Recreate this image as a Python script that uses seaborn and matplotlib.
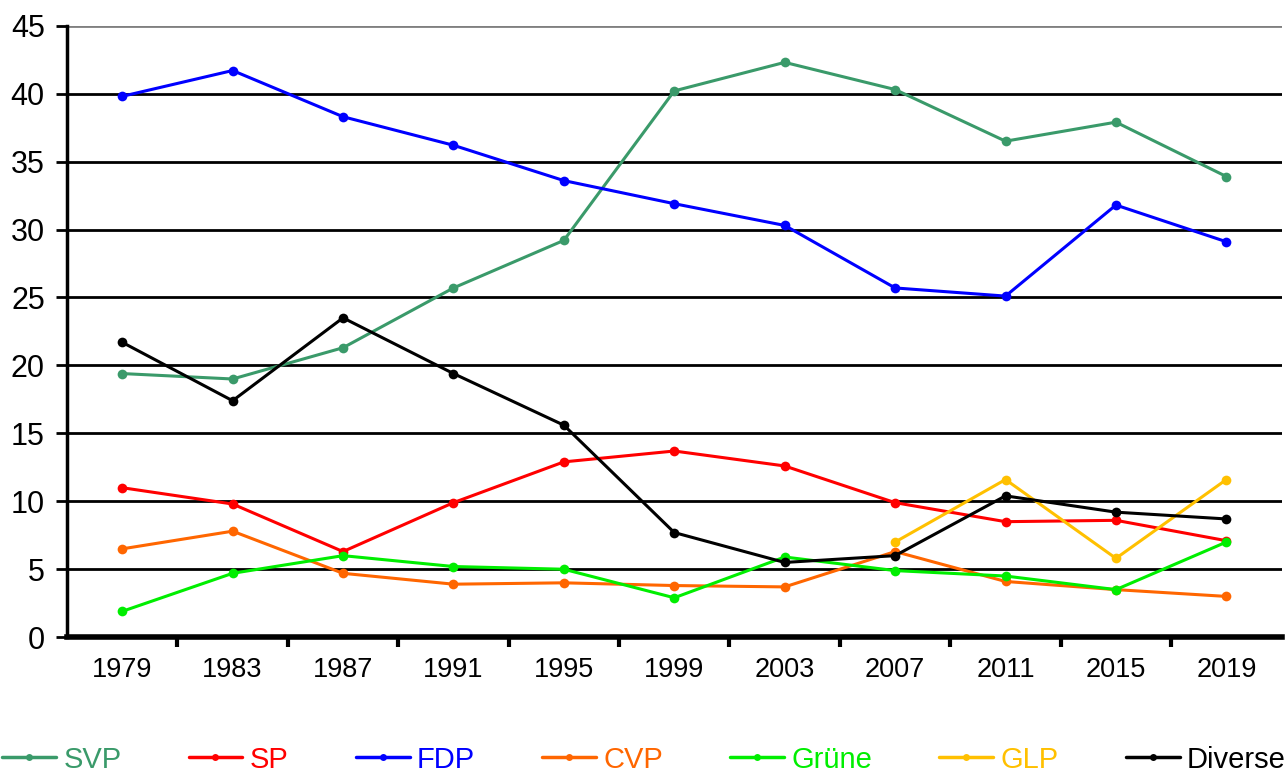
import numpy as np
import pandas as pd
import matplotlib
matplotlib.use("Agg")
import matplotlib.pyplot as plt
import seaborn as sns

years = ["1979", "1983", "1987", "1991", "1995", "1999", "2003", "2007", "2011", "2015", "2019"]

svp = [19.4, 19.0, 21.3, 25.7, 29.2, 40.2, 42.3, 40.3, 36.5, 37.9, 33.9]
sp = [11.0, 9.8, 6.3, 9.9, 12.9, 13.7, 12.6, 9.9, 8.5, 8.6, 7.1]
fdp = [39.8, 41.7, 38.3, 36.2, 33.6, 31.9, 30.3, 25.7, 25.1, 31.8, 29.1]
cvp = [6.5, 7.8, 4.7, 3.9, 4.0, 3.8, 3.7, 6.3, 4.1, 3.5, 3.0]
gruene = [1.9, 4.7, 6.0, 5.2, 5.0, 2.9, 5.9, 4.9, 4.5, 3.5, 7.0]
glp = [None, None, None, None, None, None, None, 7.0, 11.6, 5.8, 11.6]
diverse = [21.7, 17.4, 23.5, 19.4, 15.6, 7.7, 5.5, 6.0, 10.4, 9.2, 8.7]

parties = ["SVP", "SP", "FDP", "CVP", "Grüne", "GLP", "Diverse"]
colors = ["#3a9a6a", "#ff0000", "#0000ff", "#ff6600", "#00ee00", "#ffc000", "#000000"]
series = [svp, sp, fdp, cvp, gruene, glp, diverse]

rows = []
for name, vals in zip(parties, series):
    for i, v in enumerate(vals):
        if v is not None:
            rows.append({"x": i, "Partei": name, "Anteil": v})
df = pd.DataFrame(rows)

sns.set_style("white")
plt.rcParams["font.family"] = ["Liberation Sans", "DejaVu Sans"]
plt.rcParams["text.color"] = "black"
plt.rcParams["xtick.color"] = "black"
plt.rcParams["ytick.color"] = "black"

fig = plt.figure(figsize=(12.88, 7.78), dpi=100)
ax = fig.add_axes([0.052, 0.181, 0.943, 0.786])

# grid lines
for yv in range(5, 45, 5):
    ax.axhline(yv, color="black", lw=2, zorder=0)
ax.axhline(45, color="#808080", lw=2, zorder=0)

sns.lineplot(data=df, x="x", y="Anteil", hue="Partei", hue_order=parties,
             palette=dict(zip(parties, colors)), marker="o", markersize=7,
             markeredgewidth=0, linewidth=2.2, ax=ax, legend=False)

ax.set_xlim(-0.5, 10.5)
ax.set_ylim(0, 45)
ax.set_yticks(range(0, 50, 5))
ax.set_xticks(range(len(years)))
ax.set_xticklabels(years)
ax.set_xticks(np.arange(0.5, 10.5, 1), minor=True)
ax.tick_params(axis="x", which="major", length=0, pad=14, labelsize=19.5)
ax.tick_params(axis="x", which="minor", length=7, width=3, direction="out", bottom=True)
ax.tick_params(axis="y", length=8, width=2, direction="out", left=True, labelsize=22, pad=8)
ax.set_xlabel("")
ax.set_ylabel("")
for s in ["top", "right"]:
    ax.spines[s].set_visible(False)
ax.spines["left"].set_linewidth(2.5)
ax.spines["bottom"].set_linewidth(4)
ax.spines["left"].set_color("black")
ax.spines["bottom"].set_color("black")

handles = [plt.Line2D([], [], color=c, lw=2.5, marker="o", markersize=5, markeredgewidth=0)
           for c in colors]
leg = fig.legend(handles, parties, loc="lower center", bbox_to_anchor=(0.5, -0.028),
                 ncol=7, frameon=False, fontsize=21, handlelength=1.85,
                 handletextpad=0.25, columnspacing=2.3)
for t, c in zip(leg.get_texts(), colors):
    t.set_color(c)

fig.savefig("out.png", dpi=100)
